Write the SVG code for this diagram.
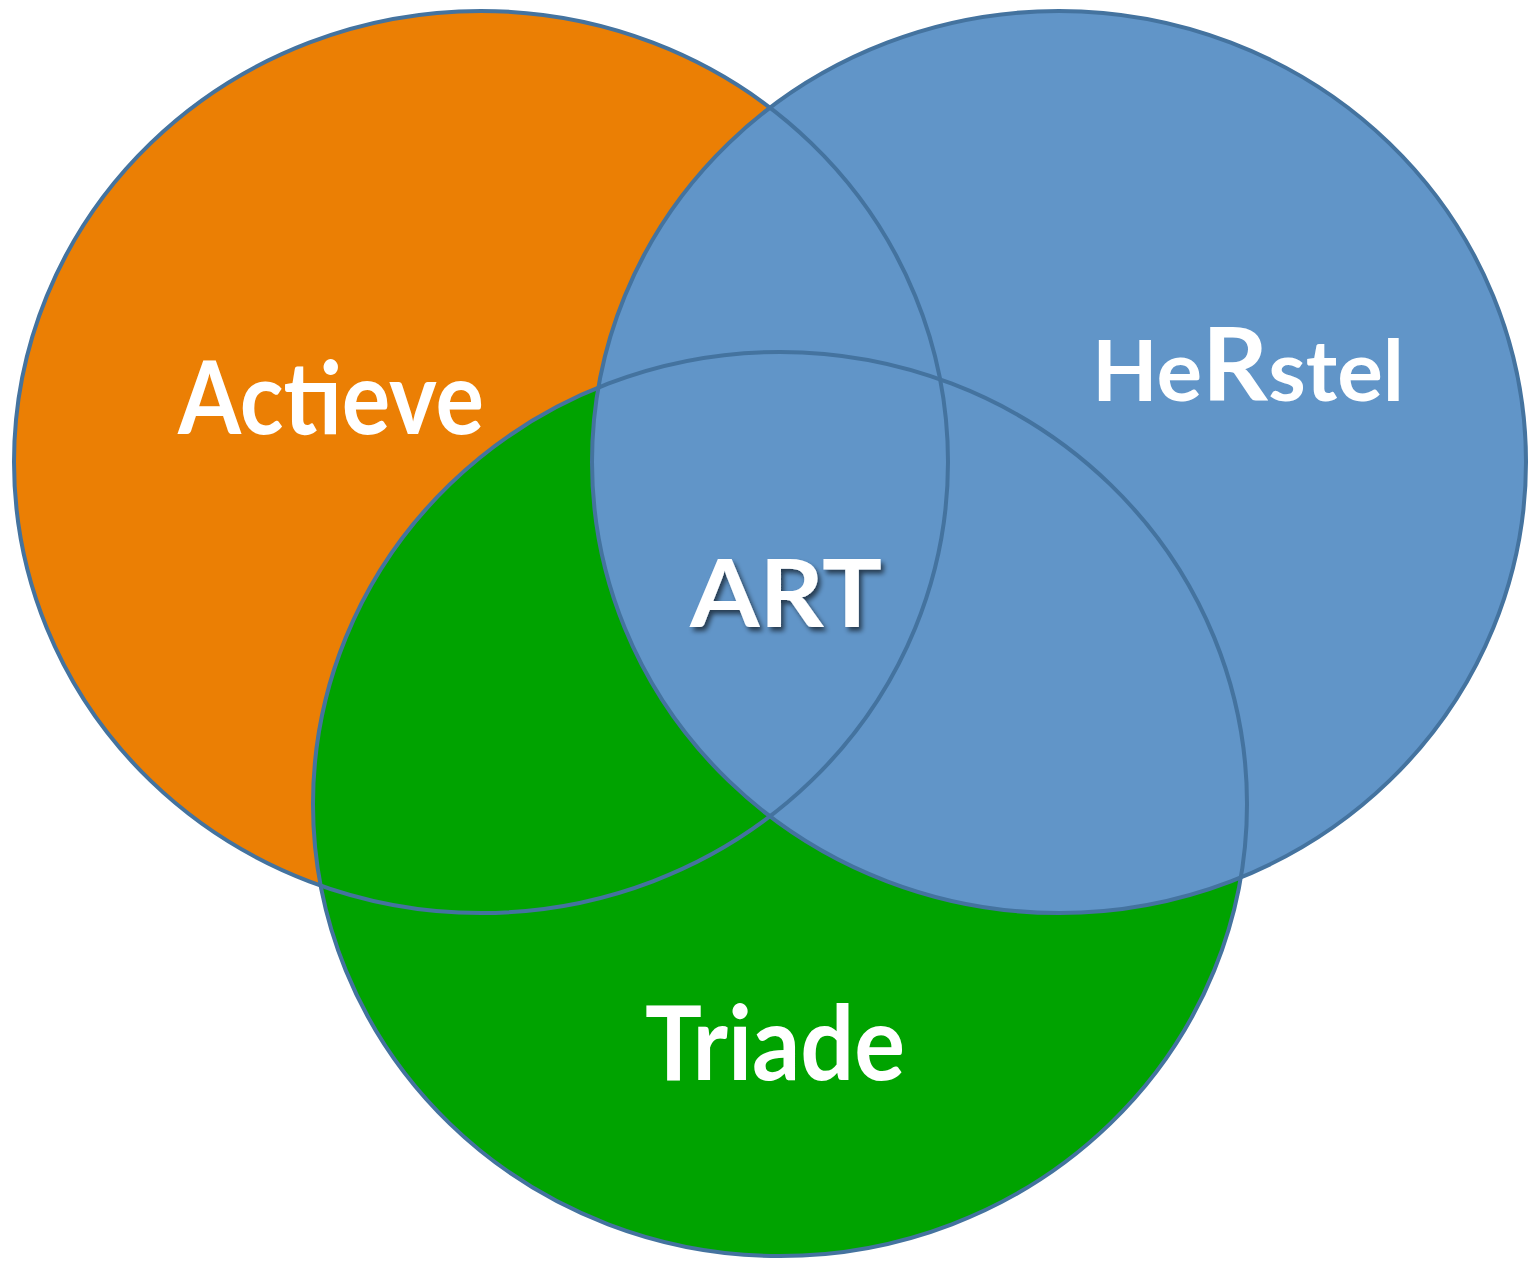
<svg xmlns="http://www.w3.org/2000/svg" width="1528" height="1263" viewBox="0 0 1528 1263">
<defs>
<style>
.lbl{font-family:Lato,"Open Sans","Liberation Sans",sans-serif;font-weight:700;fill:#FFFFFF;}
.ring{fill:none;stroke:#44739F;stroke-width:4;}
</style>
<filter id="sh" x="-20%" y="-20%" width="140%" height="140%">
<feGaussianBlur in="SourceAlpha" stdDeviation="2.5"/>
<feOffset dx="3" dy="4" result="b"/>
<feComponentTransfer><feFuncA type="linear" slope="0.6"/></feComponentTransfer>
<feMerge><feMergeNode/><feMergeNode in="SourceGraphic"/></feMerge>
</filter>
</defs>
<rect width="1528" height="1263" fill="#FFFFFF"/>
<g id="fills">
<ellipse id="actieve-fill" cx="481" cy="462" rx="467" ry="451" fill="#EB7F04"/>
<ellipse id="triade-fill" cx="780" cy="804" rx="467" ry="452" fill="#00A300"/>
<ellipse id="herstel-fill" cx="1059" cy="462" rx="467" ry="451" fill="#6195C8"/>
</g>
<g id="outlines">
<ellipse class="ring" cx="481" cy="462" rx="467" ry="451"/>
<ellipse class="ring" cx="780" cy="804" rx="467" ry="452"/>
<ellipse class="ring" cx="1059" cy="462" rx="467" ry="451"/>
</g>
<g id="node-actieve"><text class="lbl" x="331" y="434" font-size="102" text-anchor="middle" textLength="306" lengthAdjust="spacingAndGlyphs">Actieve</text></g>
<g id="node-herstel"><text class="lbl" x="1248" y="401" font-size="84" text-anchor="middle" textLength="312" lengthAdjust="spacingAndGlyphs">He<tspan font-size="101">R</tspan>stel</text></g>
<g id="node-art"><text class="lbl" x="786" y="627" font-size="94" text-anchor="middle" textLength="192" lengthAdjust="spacingAndGlyphs" filter="url(#sh)">ART</text></g>
<g id="node-triade"><text class="lbl" x="775" y="1080" font-size="104" text-anchor="middle" textLength="260" lengthAdjust="spacingAndGlyphs">Triade</text></g>
</svg>
